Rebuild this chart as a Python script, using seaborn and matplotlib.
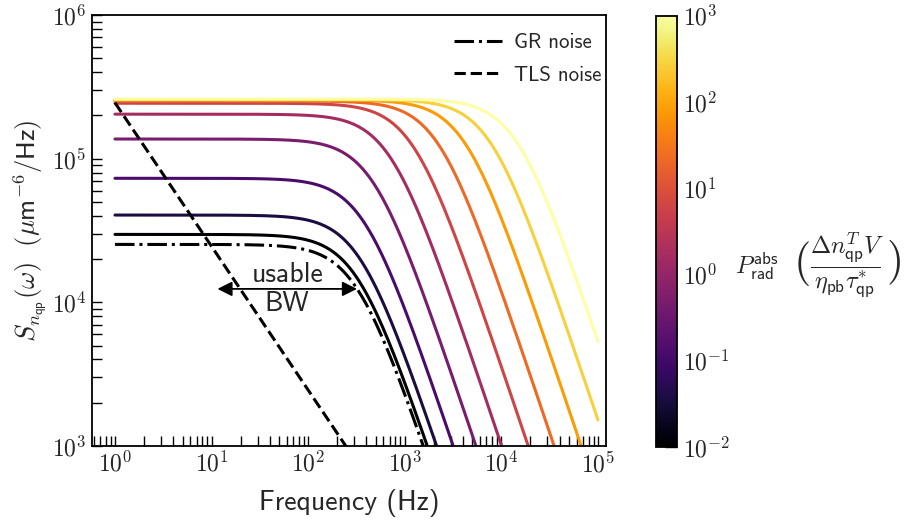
import numpy as np
import pandas as pd
import matplotlib
matplotlib.use("Agg")
import matplotlib.pyplot as plt
import seaborn as sns
from matplotlib.colors import LogNorm
from matplotlib.ticker import LogLocator, NullFormatter, FuncFormatter

# absorbed radiation power of each GR-noise spectrum (normalised units)
power = [0.01, 0.0359, 0.129, 0.464, 1.67, 5.99, 21.5, 77.4, 278.0, 1000.0]
# low-frequency plateau of each spectrum (um^-6/Hz)
plateau = [2.97e4, 4.05e4, 7.3e4, 1.37e5, 2.04e5, 2.43e5, 2.52e5, 2.56e5, 2.58e5, 2.6e5]
# roll-off frequency of each spectrum (Hz)
corner = [319, 340, 374, 468, 707, 1219, 2221, 4195, 7692, 14450]

# GR noise with thermal quasiparticles only
gr_plateau = 2.53e4
gr_corner = 315

# TLS noise: level at 1 Hz, falling as 1/f
tls_level = 2.45e5
tls_fmax = 250.0

# usable bandwidth arrow (Hz) and its height
bw_ends = [11.5, 320.0]
bw_level = 1.24e4

sns.set_theme(style="ticks")
plt.rcParams["mathtext.fontset"] = "cm"
sans = ["cmss10", "DejaVu Sans"]

freq = np.logspace(0, 5, 500)


def lorentzian(s0, fc):
    return s0 / (1.0 + (freq / fc) ** 2)


df = pd.concat(
    [pd.DataFrame({"freq": freq, "S": lorentzian(s0, fc), "power": p})
     for p, s0, fc in zip(power, plateau, corner)],
    ignore_index=True,
)

norm = LogNorm(1e-2, 1e3)

W, H = 918, 522
fig = plt.figure(figsize=(W / 100, H / 100), dpi=100)
ax = fig.add_axes([0.1002, 0.1456, 0.5599, 0.8257])
cax = fig.add_axes([0.7146, 0.1437, 0.0229, 0.8263])

sns.lineplot(data=df, x="freq", y="S", hue="power", palette="inferno",
             hue_norm=norm, estimator=None, lw=2.2, legend=False, ax=ax)

sns.lineplot(x=freq, y=lorentzian(gr_plateau, gr_corner), color="black",
             lw=2.2, linestyle="-.", label="GR noise", ax=ax)

f_tls = freq[freq <= tls_fmax]
sns.lineplot(x=f_tls, y=tls_level / f_tls, color="black", lw=2.2,
             linestyle="--", label="TLS noise", ax=ax)

ax.set_xscale("log")
ax.set_yscale("log")
ax.set_xlim(0.578, 1.21e5)
ax.set_ylim(1e3, 1e6)

# colour bar for the absorbed power
sm = plt.cm.ScalarMappable(norm=norm, cmap="inferno")
cbar = fig.colorbar(sm, cax=cax)
cbar.outline.set_linewidth(1.3)
cbar.outline.set_edgecolor("black")

dec_fmt = FuncFormatter(lambda v, pos: r"$10^{%d}$" % int(round(np.log10(v))))
for axis in (ax.xaxis, ax.yaxis, cax.yaxis):
    axis.set_major_locator(LogLocator(base=10, numticks=20))
    axis.set_minor_locator(LogLocator(base=10, subs=np.arange(2, 10), numticks=100))
    axis.set_major_formatter(dec_fmt)
    axis.set_minor_formatter(NullFormatter())

ax.tick_params(which="both", direction="in", length=7.5, width=1.0,
               color="black", top=False, right=False)
ax.tick_params(which="major", labelsize=17, pad=4)
for sp in ax.spines.values():
    sp.set_linewidth(1.3)
    sp.set_color("black")

cax.tick_params(which="both", direction="in", length=8.5, width=1.0,
                color="black", right=True, left=False)
cax.tick_params(which="major", labelsize=17, pad=4)

ax.set_xlabel("Frequency (Hz)", fontsize=20, family=sans, labelpad=9)
ax.set_ylabel(r"$S_{n_{\mathsf{qp}}}(\omega)\ \ (\mu\mathsf{m}^{-6}/\mathsf{Hz})$",
              fontsize=19, labelpad=2)

ax.legend(loc="upper right", bbox_to_anchor=(1.0, 1.0 - 14 / 431),
          frameon=False, handlelength=2.3, handletextpad=0.6,
          borderaxespad=0.0, borderpad=0.2, labelspacing=0.65,
          prop={"family": sans, "size": 15})

ax.annotate("", xy=(bw_ends[0], bw_level), xytext=(bw_ends[1], bw_level),
            arrowprops=dict(arrowstyle="<|-|>", color="black", lw=1.3,
                            mutation_scale=22, shrinkA=0, shrinkB=0))
bw_mid = np.sqrt(bw_ends[0] * bw_ends[1])
ax.text(bw_mid, bw_level, "usable\nBW", ha="center", va="center",
        fontsize=20, family=sans, linespacing=1.2)

# colour-bar label: P_rad^abs followed by the bracketed unit
renderer = fig.canvas.get_renderer()
yc = 1 - 263 / H
t_p = fig.text(735 / W, 1 - 266 / H, r"$P_{\mathsf{rad}}^{\mathsf{abs}}$",
               ha="left", va="center", fontsize=17.5)
x = t_p.get_window_extent(renderer).x1 + 14
t_l = fig.text(x / W, yc, r"$($", ha="left", va="center", fontsize=32)
x = t_l.get_window_extent(renderer).x1 + 1
t_f = fig.text(x / W, yc - 2 / H,
               r"$\dfrac{\Delta n_{\mathsf{qp}}^{T}V}{\eta_{\mathsf{pb}}\tau_{\mathsf{qp}}^{*}}$",
               ha="left", va="center", fontsize=17.5)
x = t_f.get_window_extent(renderer).x1 + 1
fig.text(x / W, yc, r"$)$", ha="left", va="center", fontsize=32)

fig.savefig("out.png", dpi=100)
